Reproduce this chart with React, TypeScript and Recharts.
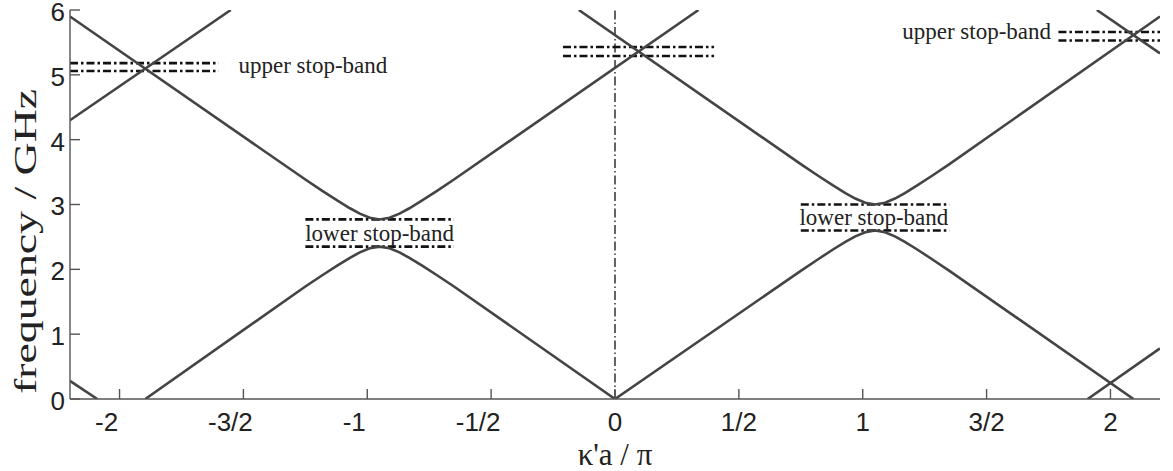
import React from 'react';
import { LineChart, Line, XAxis, YAxis, ReferenceLine, ReferenceDot, Label } from 'recharts';

// Folded dispersion branches: k = κ'a/π, f = frequency in GHz
const lowerBand = [
  { k: -1.896, f: 0 }, { k: -1.25, f: 1.735 }, { k: -1.18, f: 1.913 }, { k: -1.12, f: 2.061 },
  { k: -1.07, f: 2.178 }, { k: -1.03, f: 2.261 }, { k: -0.99, f: 2.325 }, { k: -0.95, f: 2.35 },
  { k: -0.91, f: 2.325 }, { k: -0.87, f: 2.261 }, { k: -0.83, f: 2.178 }, { k: -0.78, f: 2.061 },
  { k: -0.72, f: 1.913 }, { k: -0.65, f: 1.735 }, { k: 0, f: 0 },
  { k: 0.75, f: 1.977 }, { k: 0.82, f: 2.156 }, { k: 0.88, f: 2.306 }, { k: 0.93, f: 2.423 },
  { k: 0.97, f: 2.508 }, { k: 1.01, f: 2.573 }, { k: 1.05, f: 2.6 }, { k: 1.09, f: 2.573 },
  { k: 1.13, f: 2.508 }, { k: 1.17, f: 2.423 }, { k: 1.22, f: 2.306 }, { k: 1.28, f: 2.156 },
  { k: 1.35, f: 1.977 }, { k: 2.093, f: 0 },
];
const upperLeftBand = [
  { k: -2.2, f: 5.9 }, { k: -1.25, f: 3.385 }, { k: -1.18, f: 3.207 }, { k: -1.12, f: 3.059 },
  { k: -1.07, f: 2.942 }, { k: -1.03, f: 2.859 }, { k: -0.99, f: 2.795 }, { k: -0.95, f: 2.77 },
  { k: -0.91, f: 2.795 }, { k: -0.87, f: 2.859 }, { k: -0.83, f: 2.942 }, { k: -0.78, f: 3.059 },
  { k: -0.72, f: 3.207 }, { k: -0.65, f: 3.385 }, { k: 0.337, f: 6 },
];
const upperRightBand = [
  { k: -0.146, f: 6 }, { k: 0.75, f: 3.623 }, { k: 0.82, f: 3.444 }, { k: 0.88, f: 3.294 },
  { k: 0.93, f: 3.177 }, { k: 0.97, f: 3.092 }, { k: 1.01, f: 3.027 }, { k: 1.05, f: 3.0 },
  { k: 1.09, f: 3.027 }, { k: 1.13, f: 3.092 }, { k: 1.17, f: 3.177 }, { k: 1.22, f: 3.294 },
  { k: 1.28, f: 3.444 }, { k: 1.35, f: 3.623 }, { k: 2.2, f: 5.9 },
];
const edgeRising = [{ k: -2.2, f: 4.3 }, { k: -1.551, f: 6 }];
const edgeFalling = [{ k: 1.945, f: 6 }, { k: 2.2, f: 5.33 }];
const cornerRising = [{ k: 1.908, f: 0 }, { k: 2.2, f: 0.78 }];
const cornerFalling = [{ k: -2.2, f: 0.28 }, { k: -2.09, f: 0 }];

const branches = [lowerBand, upperLeftBand, upperRightBand, edgeRising, edgeFalling, cornerRising, cornerFalling];

// stop-band edges: k range and frequency
const stopBandEdges = [
  { k1: -2.2, k2: -1.6, f: 5.18 },
  { k1: -2.2, k2: -1.6, f: 5.06 },
  { k1: -0.21, k2: 0.4, f: 5.43 },
  { k1: -0.21, k2: 0.4, f: 5.29 },
  { k1: 1.79, k2: 2.2, f: 5.66 },
  { k1: 1.79, k2: 2.2, f: 5.53 },
  { k1: -1.25, k2: -0.65, f: 2.77 },
  { k1: -1.25, k2: -0.65, f: 2.35 },
  { k1: 0.75, k2: 1.35, f: 3.0 },
  { k1: 0.75, k2: 1.35, f: 2.6 },
];

const bandLabels = [
  { text: 'upper stop-band', k: -1.52, f: 5.15, pos: 'right' },
  { text: 'upper stop-band', k: 1.76, f: 5.68, pos: 'left' },
  { text: 'lower stop-band', k: -0.95, f: 2.56, pos: 'center' },
  { text: 'lower stop-band', k: 1.045, f: 2.81, pos: 'center' },
];

const xTickValues = [-2, -1.5, -1, -0.5, 0, 0.5, 1, 1.5, 2];
const xTickLabels = ['-2', '-3/2', '-1', '-1/2', '0', '1/2', '1', '3/2', '2'];
const yTickValues = [0, 1, 2, 3, 4, 5, 6];

const sans = '"Liberation Sans", Arial, Helvetica, sans-serif';
const serif = '"Liberation Serif", "Times New Roman", serif';
const axisColor = '#555';

const KTick = (props: any) => {
  const { x, y, payload } = props;
  const i = xTickValues.indexOf(payload.value);
  const shift = payload.value < 0 ? -13 : 0;
  return (
    <text x={x + shift} y={y} dy="0.71em" textAnchor="middle" style={{ fontFamily: sans, fontSize: 26 }} fill="#222">
      {xTickLabels[i]}
    </text>
  );
};

const FTick = (props: any) => {
  const { x, y, payload } = props;
  return (
    <text x={x} y={y} dy="0.42em" textAnchor="end" style={{ fontFamily: sans, fontSize: 26 }} fill="#222">
      {payload.value}
    </text>
  );
};

export default function App() {
  return (
    <div style={{ width: 1173, height: 471, background: '#fff' }}>
      <style>{'body{margin:0}'}</style>
      <LineChart width={1173} height={471} margin={{ top: 10, right: 13, bottom: 42, left: 10 }}>
        <XAxis
          type="number"
          dataKey="k"
          domain={[-2.2, 2.2]}
          allowDataOverflow
          ticks={xTickValues}
          tick={<KTick />}
          tickSize={-10}
          tickMargin={24}
          height={30}
          stroke={axisColor}
          strokeWidth={1.4}
        >
          <Label
            content={(p: any) => {
              const vb = p.viewBox;
              return (
                <text
                  x={vb.x + vb.width / 2}
                  y={465}
                  textAnchor="middle"
                  style={{ fontFamily: serif, fontSize: 31 }}
                  fill="#222"
                >
                  κ'a / π
                </text>
              );
            }}
          />
        </XAxis>
        <YAxis
          type="number"
          dataKey="f"
          domain={[0, 6]}
          allowDataOverflow
          ticks={yTickValues}
          tick={<FTick />}
          tickSize={-10}
          tickMargin={15}
          width={60}
          stroke={axisColor}
          strokeWidth={1.4}
        >
          <Label
            content={(p: any) => {
              const vb = p.viewBox;
              const cy = vb.y + vb.height / 2 + 37;
              return (
                <text
                  transform={`translate(36,${cy}) rotate(-90)`}
                  textAnchor="middle"
                  textLength={305}
                  lengthAdjust="spacingAndGlyphs"
                  style={{ fontFamily: serif, fontSize: 32 }}
                  fill="#222"
                >
                  frequency / GHz
                </text>
              );
            }}
          />
        </YAxis>

        <ReferenceLine x={0} stroke="#111" strokeWidth={1.3} strokeDasharray="9 3 1.5 3" />

        {stopBandEdges.map((s, i) => (
          <ReferenceLine
            key={`sb-${i}`}
            segment={[{ x: s.k1, y: s.f }, { x: s.k2, y: s.f }]}
            stroke="#111"
            strokeWidth={2.6}
            strokeDasharray="8 3 2.5 3"
          />
        ))}

        {branches.map((b, i) => (
          <Line
            key={`br-${i}`}
            data={b}
            dataKey="f"
            type="linear"
            stroke="#444"
            strokeWidth={2.6}
            dot={false}
            activeDot={false}
            isAnimationActive={false}
          />
        ))}

        {bandLabels.map((l, i) => (
          <ReferenceDot key={`lb-${i}`} x={l.k} y={l.f} r={0} stroke="none" fill="none">
            <Label
              value={l.text}
              position={l.pos as any}
              offset={0}
              fontFamily={serif}
              fontSize={23}
              fill="#222"
            />
          </ReferenceDot>
        ))}
      </LineChart>
    </div>
  );
}
